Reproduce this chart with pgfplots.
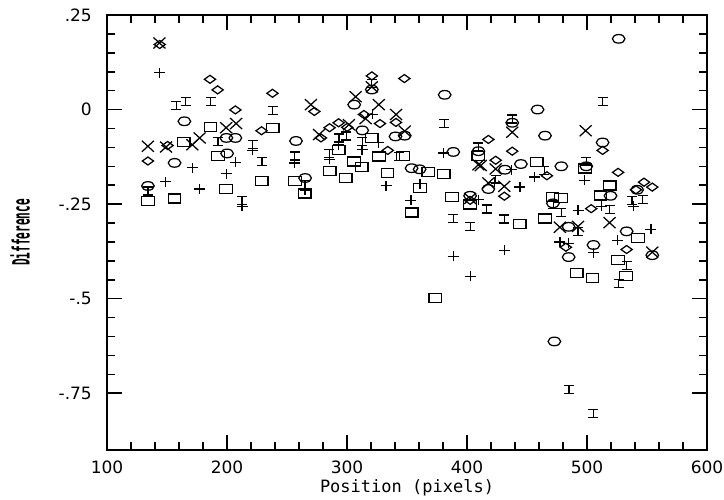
\documentclass[border=0pt]{standalone}
\usepackage{fontspec}
\setmainfont{DejaVu Sans Mono}
\newfontfamily\tickfont{DejaVu Sans}
\usepackage{pgfplots}
\pgfplotsset{compat=1.18}
\pgfdeclareplotmark{sqr}{\pgfpathrectangle{\pgfpoint{-6.3pt}{-4.5pt}}{\pgfpoint{12.6pt}{9pt}}\pgfusepathqstroke}
\pgfdeclareplotmark{ell}{\pgfpathellipse{\pgfpointorigin}{\pgfpoint{6.3pt}{0pt}}{\pgfpoint{0pt}{4.3pt}}\pgfusepathqstroke}
\pgfdeclareplotmark{dia}{\pgfpathmoveto{\pgfpoint{-5.6pt}{0pt}}\pgfpathlineto{\pgfpoint{0pt}{4pt}}\pgfpathlineto{\pgfpoint{5.6pt}{0pt}}\pgfpathlineto{\pgfpoint{0pt}{-4pt}}\pgfpathclose\pgfusepathqstroke}
\pgfdeclareplotmark{crs}{\pgfpathmoveto{\pgfpoint{-6pt}{-5.5pt}}\pgfpathlineto{\pgfpoint{6pt}{5.5pt}}\pgfpathmoveto{\pgfpoint{-6pt}{5.5pt}}\pgfpathlineto{\pgfpoint{6pt}{-5.5pt}}\pgfusepathqstroke}
\pgfdeclareplotmark{pls}{\pgfpathmoveto{\pgfpoint{-5.5pt}{0pt}}\pgfpathlineto{\pgfpoint{5.5pt}{0pt}}\pgfpathmoveto{\pgfpoint{0pt}{-5pt}}\pgfpathlineto{\pgfpoint{0pt}{5pt}}\pgfusepathqstroke}
\pgfdeclareplotmark{ibeam}{\pgfpathmoveto{\pgfpoint{-5pt}{4pt}}\pgfpathlineto{\pgfpoint{5pt}{4pt}}\pgfpathmoveto{\pgfpoint{-5pt}{-4pt}}\pgfpathlineto{\pgfpoint{5pt}{-4pt}}\pgfpathmoveto{\pgfpoint{0pt}{-4pt}}\pgfpathlineto{\pgfpoint{0pt}{4pt}}\pgfusepathqstroke}
\begin{document}
\begin{tikzpicture}
\begin{axis}[name=ax, at={(0,0)},
  scale only axis, width=600pt, height=435pt,
  xmin=100, xmax=600, ymin=-0.9, ymax=0.25,
  xtick={100,200,300,400,500,600},
  xticklabels={100,200,300,400,500,600},
  ytick={-0.75,-0.5,-0.25,0,0.25},
  yticklabels={-.75,-.5,-.25,0,.25},
  minor x tick num=4, minor y tick num=4,
  tick align=inside, xtick pos=both, ytick pos=both,
  major tick length=15pt, minor tick length=8pt,
  axis line style={line width=1.6pt},
  every tick/.style={black, line width=1.6pt},
  /pgf/number format/assume math mode=true,
  xticklabel style={font=\tickfont\fontsize{17}{20}\selectfont, inner sep=0pt, anchor=north, yshift=-11pt},
  yticklabel style={font=\tickfont\fontsize{17}{20}\selectfont, inner sep=0pt, anchor=east, xshift=-15pt},
  xlabel={Position (pixels)},
  xlabel style={font=\fontsize{17}{20}\selectfont, at={(axis description cs:0.5,0)}, anchor=north, inner sep=0pt, yshift=-29pt},
  ylabel={\scalebox{0.65}[1.4]{\bfseries Difference}},
  ylabel style={font=\fontsize{17}{20}\selectfont, at={(axis description cs:-0.145,0.5)}, anchor=center, inner sep=0pt},
  clip=false,
]
% squares
\addplot[only marks, mark=sqr, mark options={line width=1.25pt}] table {
134.1 -0.242
156.3 -0.235
163.9 -0.086
186.3 -0.046
192.4 -0.122
199.3 -0.210
229.0 -0.189
238.0 -0.049
256.7 -0.188
264.8 -0.222
285.6 -0.162
293.0 -0.106
299.0 -0.181
305.8 -0.137
312.3 -0.152
320.5 -0.075
326.8 -0.124
333.8 -0.168
346.6 -0.123
354.0 -0.272
360.8 -0.207
367.7 -0.166
373.6 -0.499
380.5 -0.171
387.6 -0.231
402.5 -0.251
409.5 -0.122
443.9 -0.303
458.0 -0.138
465.0 -0.288
471.2 -0.232
478.4 -0.234
491.5 -0.433
498.2 -0.156
504.6 -0.445
511.3 -0.227
518.9 -0.201
525.7 -0.398
532.4 -0.440
542.5 -0.339
};
% circles
\addplot[only marks, mark=ell, mark options={line width=1.25pt}] table {
134.1 -0.202
156.3 -0.141
164.5 -0.031
199.5 -0.075
200.1 -0.116
207.0 -0.075
257.5 -0.083
265.1 -0.181
306.0 0.013
312.7 -0.055
320.7 0.053
340.4 -0.071
348.1 -0.069
353.8 -0.155
360.5 -0.158
381.4 0.039
388.6 -0.112
402.6 -0.228
409.5 -0.110
417.8 -0.210
431.6 -0.159
437.7 -0.035
444.9 -0.144
458.8 0.0
465.0 -0.069
471.6 -0.248
472.8 -0.613
478.6 -0.150
484.7 -0.310
484.7 -0.390
499.4 -0.150
505.4 -0.358
513.0 -0.087
519.6 -0.228
526.4 0.187
533.0 -0.322
541.8 -0.212
554.4 -0.385
};
% diamonds
\addplot[only marks, mark=dia, mark options={line width=1.25pt}] table {
134.1 -0.136
143.9 0.172
150.5 -0.095
185.8 0.080
192.2 0.052
207.0 -0.001
228.8 -0.056
237.9 0.043
272.8 -0.005
278.3 -0.075
285.5 -0.048
293.0 -0.035
300.2 -0.047
314.1 -0.013
320.7 0.089
327.5 -0.037
334.0 -0.108
340.8 -0.034
347.8 0.082
402.6 -0.240
417.8 -0.079
423.9 -0.134
431.1 -0.229
437.7 -0.110
466.6 -0.175
482.4 -0.364
503.5 -0.262
513.0 -0.108
525.9 -0.166
533.0 -0.370
540.8 -0.212
547.5 -0.192
554.4 -0.205
};
% crosses
\addplot[only marks, mark=crs, mark options={line width=1.25pt}] table {
134.1 -0.097
143.7 0.176
149.2 -0.099
171.1 -0.093
177.2 -0.075
199.3 -0.048
207.6 -0.037
269.9 0.013
276.7 -0.066
301.6 -0.040
307.2 0.034
315.5 -0.024
320.7 0.060
326.5 0.013
340.9 -0.013
348.1 -0.057
402.6 -0.235
409.5 -0.146
411.5 -0.148
417.8 -0.194
423.9 -0.157
431.1 -0.203
437.7 -0.060
477.4 -0.311
492.5 -0.309
498.9 -0.056
518.8 -0.299
554.4 -0.377
};
% plus
\addplot[only marks, mark=pls, mark options={line width=1.25pt}] table {
143.7 0.097
149.0 -0.191
171.1 -0.154
177.2 -0.210
199.3 -0.170
207.0 -0.139
212.6 -0.256
221.4 -0.108
256.3 -0.141
265.0 -0.213
285.4 -0.132
292.7 -0.094
312.6 -0.106
321.0 -0.013
326.5 -0.088
332.6 -0.201
353.3 -0.240
360.9 -0.196
380.5 -0.115
388.5 -0.388
402.6 -0.441
409.5 -0.238
422.6 -0.192
431.1 -0.372
437.1 -0.159
444.1 -0.205
456.5 -0.178
477.4 -0.350
484.3 -0.354
492.5 -0.266
497.7 -0.187
505.4 -0.378
511.8 -0.256
525.7 -0.346
538.9 -0.256
553.3 -0.317
};
% I-beams
\addplot[only marks, mark=ibeam, mark options={line width=1.25pt}] table {
134.1 -0.215
157.8 0.011
165.5 0.022
186.3 0.022
192.4 -0.084
212.6 -0.241
221.4 -0.093
229.2 -0.137
238.0 -0.002
256.3 -0.123
265.0 -0.198
285.4 -0.116
293.3 -0.075
299.5 -0.070
312.7 -0.084
320.7 0.069
343.7 -0.124
381.2 -0.036
388.5 -0.288
402.6 -0.310
409.5 -0.099
416.3 -0.263
423.9 -0.185
431.1 -0.289
437.7 -0.025
464.3 -0.162
472.0 -0.250
478.6 -0.273
485.0 -0.740
492.5 -0.322
499.4 -0.137
505.4 -0.803
513.2 0.022
518.8 -0.265
526.4 -0.460
533.0 -0.412
537.5 -0.240
546.4 -0.237
};
\end{axis}
\pgfresetboundingbox
\path[use as bounding box] ([xshift=-107pt,yshift=-49pt]ax.south west) rectangle ([xshift=17pt,yshift=15pt]ax.north east);
\end{tikzpicture}
\end{document}
